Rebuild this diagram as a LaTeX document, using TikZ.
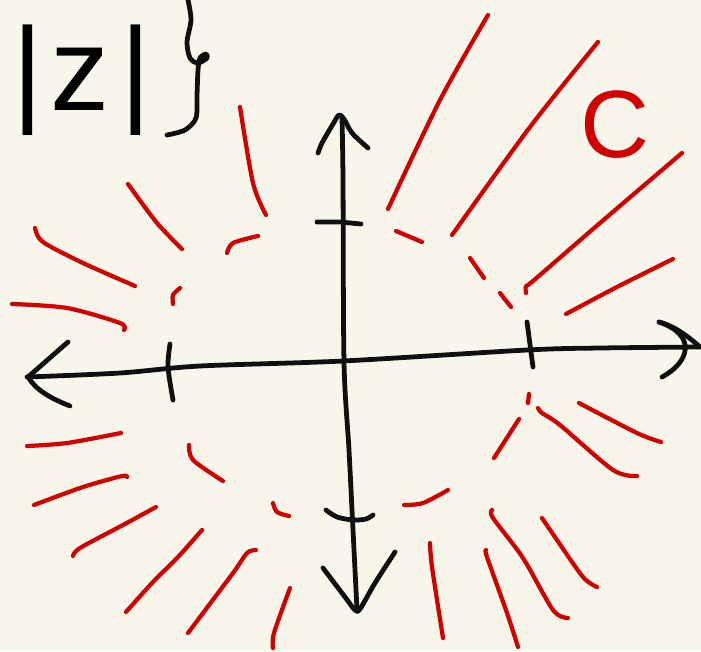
\documentclass[tikz,border=0pt]{standalone}
\usepackage{fontspec}
\usepackage{xcolor}
\usepackage{tikz}
\newfontfamily\handfont{Liberation Sans}
\definecolor{paper}{HTML}{F8F6EA}
\definecolor{pen}{HTML}{D10000}
\definecolor{ink}{HTML}{101010}

\begin{document}
\begin{tikzpicture}[x=0.025cm,y=-0.025cm,
 axisline/.style={draw=ink,line width=3.4pt,line cap=round,line join=round},
 ray/.style={draw=pen,line width=3pt,line cap=round,line join=round},
 rim/.style={ray},
 word/.style={inner sep=0pt,font=\handfont}]
\fill[paper] (0,0) rectangle (701,651);
\useasboundingbox (0,0) rectangle (701,651);
% axes
\draw[axisline] plot[smooth] coordinates {(27,377) (120,373) (200,366) (343,361) (527,350) (600,348) (700,347)};
\draw[axisline] (68,342) -- (28,377) .. controls (36,390) and (50,398) .. (70,406);
\draw[axisline] (659,322) .. controls (675,326) and (690,338) .. (700,347);
\draw[axisline] (659,322) .. controls (697,335) and (690,362) .. (662,377);
\draw[axisline] plot[smooth] coordinates {(342,118) (343,180) (344,362) (349,450) (353,530) (357,610)};
\draw[axisline] plot[smooth] coordinates {(318,153) (322,143) (333,124) (339,115) (344,119) (352,133) (368,148)};
\draw[axisline] plot[smooth] coordinates {(323,568) (345,597) (355,610) (360,609) (375,583) (395,552)};
% ticks
\draw[axisline] plot[smooth] coordinates {(170,344) (168,367) (173,400)};
\draw[axisline] plot[smooth] coordinates {(527,322) (529,337) (533,367)};
\draw[axisline] (317,222) -- (340,222) -- (361,224);
\draw[axisline] plot[smooth] coordinates {(326,510) (337,517) (353,520) (366,519) (373,515)};
% dashed circle
\draw[rim] plot[smooth] coordinates {(227,253) (233,243) (258,236)};
\draw[rim] plot[smooth] coordinates {(180,288) (173,295) (173,304)};
\draw[rim] (396,231) -- (422,242);
\draw[rim] (470,258) -- (484,278);
\draw[rim] (500,293) -- (511,307);
\draw[rim] (529,394) -- (528,403);
\draw[rim] (519,419) -- (494,458);
\draw[rim] plot[smooth] coordinates {(448,490) (423,503) (404,505)};
\draw[rim] plot[smooth] coordinates {(273,503) (277,512) (289,516)};
\draw[rim] plot[smooth] coordinates {(189,445) (193,460) (223,481)};
% rays
\draw[ray] plot[smooth] coordinates {(128,184) (157,223) (182,249)};
\draw[ray] plot[smooth] coordinates {(35,228) (43,242) (83,263) (135,286)};
\draw[ray] plot[smooth] coordinates {(12,304) (67,308) (120,323) (124,330)};
\draw[ray] plot[smooth] coordinates {(240,107) (253,183) (266,215)};
\draw[ray] plot[smooth] coordinates {(488,15) (440,100) (388,209)};
\draw[ray] plot[smooth] coordinates {(598,42) (530,127) (452,235)};
\draw[ray] plot[smooth] coordinates {(682,153) (600,223) (533,281) (526,286) (526,293)};
\draw[ray] plot[smooth] coordinates {(673,259) (617,287) (566,314)};
\draw[ray] plot[smooth] coordinates {(538,408) (542,413) (560,425) (613,470) (637,476)};
\draw[ray] plot[smooth] coordinates {(579,403) (637,433) (661,442)};
\draw[ray] plot[smooth] coordinates {(597,587) (583,577) (557,540) (542,518)};
\draw[ray] plot[smooth] coordinates {(568,618) (553,610) (523,558) (493,518) (492,510)};
\draw[ray] plot[smooth] coordinates {(518,647) (507,613) (487,557) (486,550)};
\draw[ray] plot[smooth] coordinates {(443,638) (432,567) (430,543)};
\draw[ray] plot[smooth] coordinates {(290,588) (274,633) (273,648)};
\draw[ray] plot[smooth] coordinates {(256,550) (247,553) (233,573) (188,633)};
\draw[ray] plot[smooth] coordinates {(202,530) (178,557) (153,582) (126,612)};
\draw[ray] plot[smooth] coordinates {(156,507) (123,525) (80,548) (73,556)};
\draw[ray] plot[smooth] coordinates {(127,477) (122,476) (83,487) (34,505)};
\draw[ray] plot[smooth] coordinates {(121,433) (67,443) (27,446)};
% labels
\node[word,anchor=base west,font=\handfont\fontsize{84}{84}\selectfont] (modulus) at (12,110) {|\hspace{0.2cm}z\hspace{0.25cm}|};
\draw[axisline] plot[smooth] coordinates {(188,0) (191,20) (187,42) (190,58) (198,63) (207,58) (206,54) (200,58) (198,70) (197,95) (196,118) (185,130) (167,135)};
\node[word,anchor=base west,text=pen,font=\handfont\fontsize{68}{68}\selectfont] (plane) at (580,157) {C};
\end{tikzpicture}
\end{document}
